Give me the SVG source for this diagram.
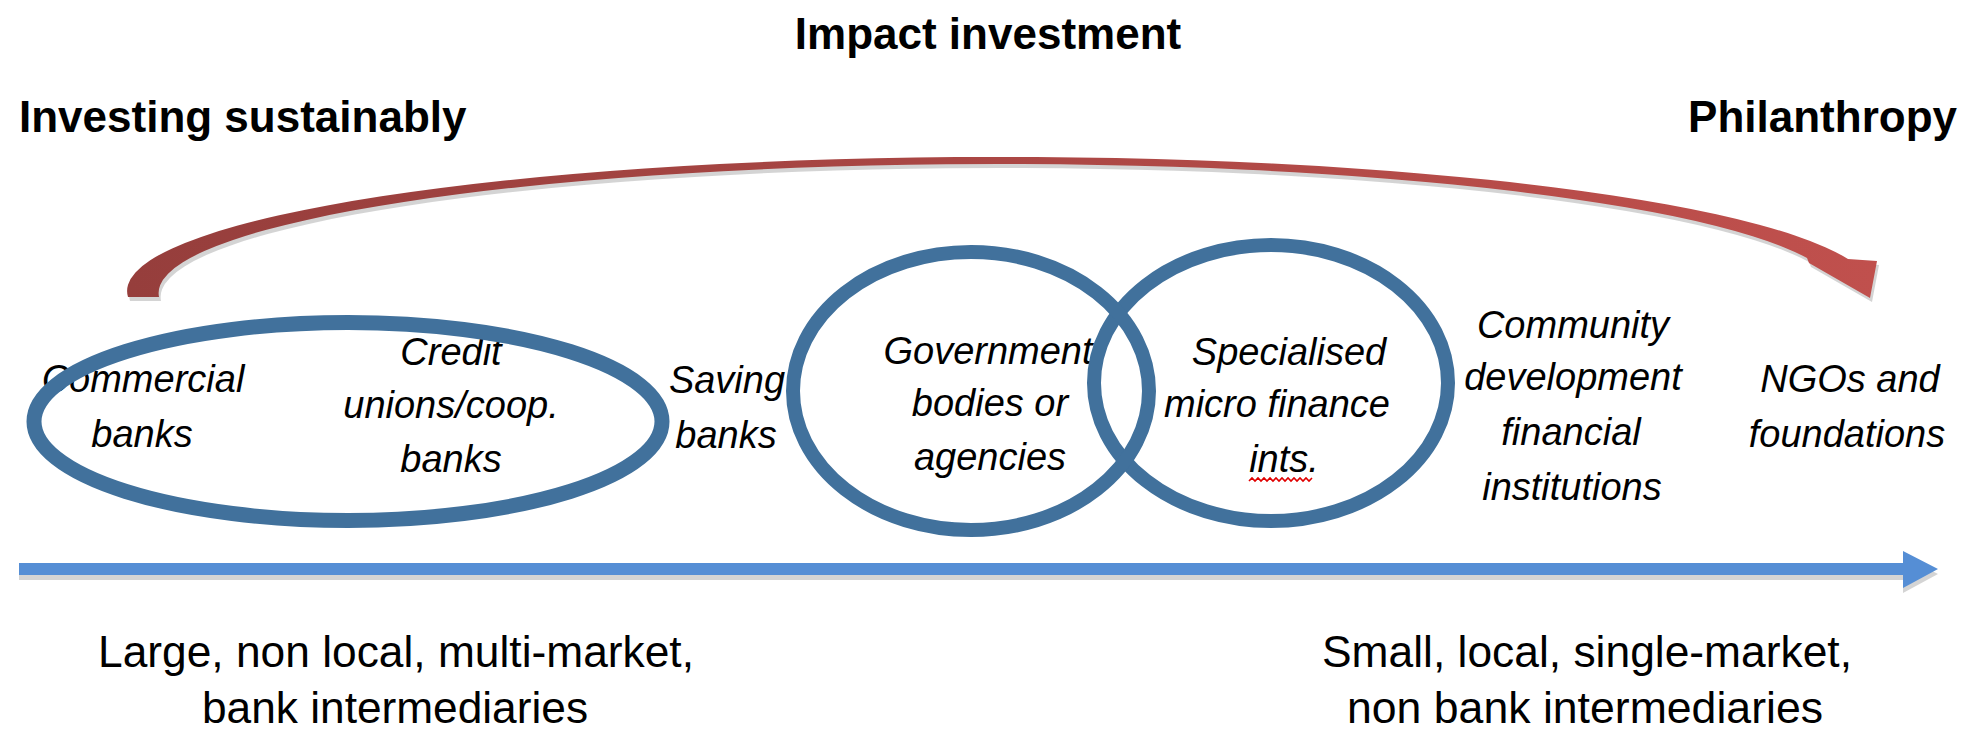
<svg xmlns="http://www.w3.org/2000/svg" width="1964" height="731" viewBox="0 0 1964 731">
  <style>
    .title { font-family: "Liberation Sans", Arial, sans-serif; font-weight: bold; font-size: 44px; fill: #000; }
    .lbl { font-family: "Liberation Sans", Arial, sans-serif; font-style: italic; font-size: 38px; fill: #000; text-anchor: middle; }
    .bot { font-family: "Liberation Sans", Arial, sans-serif; font-size: 45px; fill: #000; }
    .ring { fill: none; stroke: #41719C; stroke-width: 14; }
    .shadow { fill: #c9c9c9; opacity: 0.8; }
  </style>
  <defs>
    <linearGradient id="redGrad" x1="0" y1="0" x2="1" y2="0">
      <stop offset="0" stop-color="#963E3C"/>
      <stop offset="1" stop-color="#C0504D"/>
    </linearGradient>
  </defs>
  <rect width="1964" height="731" fill="#fff"/>

  <g id="titles">
    <text class="title" x="988" y="49" text-anchor="middle">Impact investment</text>
    <text class="title" x="19" y="132">Investing sustainably</text>
    <text class="title" x="1957" y="132" text-anchor="end">Philanthropy</text>
  </g>

  <g id="connectors">
    <g id="curved-arrow">
      <path class="shadow" transform="translate(2,4)" d="M 128,297 A 873 134 0 0 1 1848,259 L 1877,261 L 1870,298 L 1809,263 L 1807,258 A 840 129 0 0 0 159,297 Z"/>
      <path fill="url(#redGrad)" d="M 128,297 A 873 134 0 0 1 1848,259 L 1877,261 L 1870,298 L 1809,263 L 1807,258 A 840 129 0 0 0 159,297 Z"/>
    </g>
    <g id="axis-arrow">
      <path class="shadow" transform="translate(0,5)" d="M 19,563 L 1903,563 L 1903,551 L 1938,569 L 1903,588 L 1903,575 L 19,575 Z"/>
      <path fill="#558ED5" d="M 19,563 L 1903,563 L 1903,551 L 1938,569 L 1903,588 L 1903,575 L 19,575 Z"/>
    </g>
  </g>

  <g id="node-commercial">
    <text class="lbl" x="143" y="392">Commercial</text>
    <text class="lbl" x="142" y="447">banks</text>
  </g>
  <g id="node-credit">
    <text class="lbl" x="451" y="365">Credit</text>
    <text class="lbl" x="451" y="418">unions/coop.</text>
    <text class="lbl" x="451" y="472">banks</text>
  </g>
  <g id="node-saving">
    <text class="lbl" x="727" y="393">Saving</text>
    <text class="lbl" x="726" y="448">banks</text>
  </g>
  <g id="node-government">
    <text class="lbl" x="988" y="364">Government</text>
    <text class="lbl" x="990" y="416">bodies or</text>
    <text class="lbl" x="990" y="470">agencies</text>
  </g>
  <g id="node-specialised">
    <text class="lbl" x="1289" y="365">Specialised</text>
    <text class="lbl" x="1277" y="417">micro finance</text>
    <text class="lbl" x="1284" y="472">ints.</text>
    <polyline fill="none" stroke="#E00000" stroke-width="1.6" points="1249,481 1252,478 1255,481 1258,478 1261,481 1264,478 1267,481 1270,478 1273,481 1276,478 1279,481 1282,478 1285,481 1288,478 1291,481 1294,478 1297,481 1300,478 1303,481 1306,478 1309,481 1312,478"/>
  </g>
  <g id="node-community">
    <text class="lbl" x="1573" y="338">Community</text>
    <text class="lbl" x="1573" y="390">development</text>
    <text class="lbl" x="1571" y="445">financial</text>
    <text class="lbl" x="1572" y="500">institutions</text>
  </g>
  <g id="node-ngos">
    <text class="lbl" x="1850" y="392">NGOs and</text>
    <text class="lbl" x="1847" y="447">foundations</text>
  </g>

  <g id="group-banks">
    <ellipse class="ring" cx="348" cy="421.5" rx="314" ry="99" style="stroke-width:15"/>
  </g>
  <g id="group-government">
    <ellipse class="ring" cx="1271" cy="383" rx="177" ry="138"/>
  </g>
  <g id="group-specialised">
    <ellipse class="ring" cx="971" cy="391" rx="178" ry="139"/>
  </g>

  <g id="bottom-left">
    <text class="bot" x="98" y="667" textLength="596" lengthAdjust="spacingAndGlyphs">Large, non local, multi-market,</text>
    <text class="bot" x="202" y="723" textLength="386" lengthAdjust="spacingAndGlyphs">bank intermediaries</text>
  </g>
  <g id="bottom-right">
    <text class="bot" x="1322" y="667" textLength="530" lengthAdjust="spacingAndGlyphs">Small, local, single-market,</text>
    <text class="bot" x="1347" y="723" textLength="476" lengthAdjust="spacingAndGlyphs">non bank intermediaries</text>
  </g>
</svg>
